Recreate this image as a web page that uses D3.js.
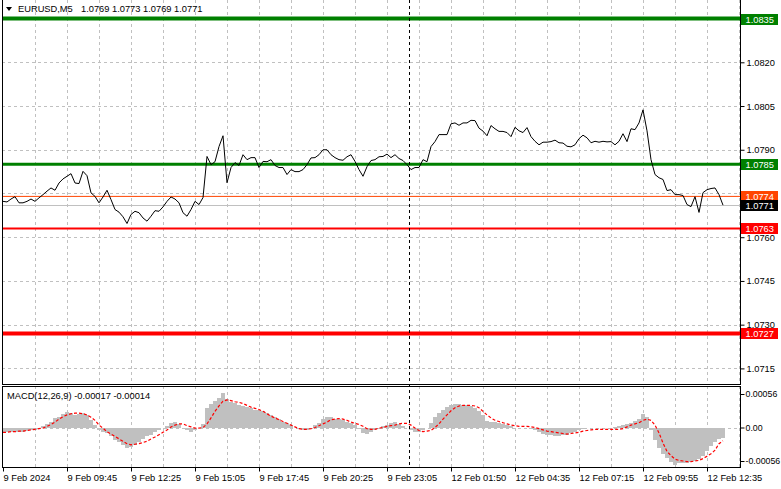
<!DOCTYPE html>
<html><head><meta charset="utf-8">
<script src="https://cdn.jsdelivr.net/npm/d3@7"></script>
<style>
html,body{margin:0;padding:0;background:#fff;}
svg{display:block;font-family:"Liberation Sans",Arial,sans-serif;}
</style></head><body>
<svg id="c" width="781" height="489"></svg>
<script>
// ---------- DATA ----------
const symbolTitle = "EURUSD,M5";
const ohlcLabel = "1.0769 1.0773 1.0769 1.0771";
const macdTitle = "MACD(12,26,9) -0.00017 -0.00014";
const timeLabels = ["9 Feb 2024","9 Feb 09:45","9 Feb 12:25","9 Feb 15:05","9 Feb 17:45","9 Feb 20:25",
  "9 Feb 23:05","12 Feb 01:50","12 Feb 04:35","12 Feb 07:15","12 Feb 09:55","12 Feb 12:35"];
const priceTicks = [1.0715,1.0730,1.0745,1.0760,1.0775,1.0790,1.0805,1.0820,1.0835];
const macdTicks = [0.00056, 0, -0.00056];
const macdTickLabels = ["0.00056","0.00","-0.00056"];
// close prices, one value per 10 minutes (2 bars of M5)
const closes = [
1.07723,1.07721,1.07731,1.07739,1.07718,1.07718,1.07723,1.07731,1.07723,1.07735,
1.07746,1.07758,1.07769,1.07761,1.07786,1.07800,1.07809,1.07818,1.07786,1.07784,
1.07826,1.07811,1.07752,1.07740,1.07718,1.07738,1.07761,1.07729,1.07695,1.07686,
1.07670,1.07647,1.07678,1.07689,1.07684,1.07666,1.07655,1.07672,1.07691,1.07689,
1.07704,1.07723,1.07738,1.07731,1.07718,1.07684,1.07672,1.07695,1.07723,1.07712,
1.07736,1.07877,1.07849,1.07859,1.07911,1.07948,1.07787,1.07839,1.07856,1.07846,
1.07883,1.07866,1.07873,1.07873,1.07839,1.07860,1.07859,1.07866,1.07846,1.07839,
1.07839,1.07815,1.07832,1.07825,1.07825,1.07832,1.07849,1.07872,1.07873,1.07883,
1.07900,1.07900,1.07883,1.07873,1.07866,1.07864,1.07876,1.07883,1.07860,1.07832,
1.07809,1.07842,1.07863,1.07866,1.07876,1.07877,1.07885,1.07873,1.07883,1.07870,
1.07863,1.07849,1.07832,1.07839,1.07839,1.07866,1.07859,1.07911,1.07928,1.07952,
1.07952,1.07952,1.07989,1.07992,1.07984,1.07992,1.07992,1.08001,1.08000,1.07974,
1.07964,1.07948,1.07983,1.07972,1.07963,1.07963,1.07959,1.07945,1.07977,1.07965,
1.07959,1.07976,1.07945,1.07929,1.07917,1.07926,1.07926,1.07928,1.07933,1.07924,
1.07923,1.07912,1.07910,1.07917,1.07938,1.07950,1.07941,1.07924,1.07929,1.07926,
1.07929,1.07927,1.07928,1.07917,1.07929,1.07955,1.07928,1.07972,1.07969,1.07992,
1.08037,1.07965,1.07866,1.07815,1.07804,1.07798,1.07760,1.07763,1.07746,1.07746,
1.07743,1.07712,1.07705,1.07739,1.07685,1.07753,1.07763,1.07767,1.07769,1.07746,
1.07710];
const macdHist = [
-0.00008,-0.00008,-0.00008,-0.00007,-0.00007,-0.00007,-0.00006,-0.00005,-0.00004,-0.00002,
0.00003,0.00006,0.00010,0.00016,0.00018,0.00022,0.00026,0.00024,0.00021,0.00023,
0.00025,0.00021,0.00013,0.00004,-0.00005,-0.00008,-0.00009,-0.00015,-0.00021,-0.00024,
-0.00029,-0.00035,-0.00033,-0.00029,-0.00025,-0.00019,-0.00015,-0.00012,-0.00008,-0.00005,
-0.00001,0.00003,0.00008,0.00010,0.00006,-0.00001,-0.00005,-0.00007,-0.00004,0.00000,
0.00006,0.00032,0.00040,0.00045,0.00049,0.00058,0.00048,0.00043,0.00041,0.00038,
0.00036,0.00034,0.00032,0.00030,0.00030,0.00027,0.00024,0.00021,0.00017,0.00014,
0.00010,0.00007,0.00004,0.00000,-0.00003,-0.00004,-0.00004,-0.00002,0.00004,0.00008,
0.00014,0.00018,0.00017,0.00014,0.00014,0.00012,0.00010,0.00007,0.00004,-0.00003,
-0.00009,-0.00011,-0.00007,-0.00004,-0.00003,0.00003,0.00004,0.00007,0.00009,0.00006,
0.00003,0.00000,-0.00005,-0.00007,-0.00008,-0.00004,-0.00001,0.00007,0.00018,0.00024,
0.00030,0.00034,0.00037,0.00039,0.00039,0.00038,0.00038,0.00036,0.00032,0.00028,
0.00021,0.00011,0.00010,0.00009,0.00007,0.00006,0.00004,0.00002,0.00000,0.00000,
0.00000,-0.00001,-0.00002,-0.00004,-0.00008,-0.00011,-0.00012,-0.00013,-0.00014,-0.00014,
-0.00013,-0.00012,-0.00009,-0.00007,-0.00004,-0.00002,-0.00001,-0.00001,-0.00001,-0.00001,
-0.00001,-0.00001,0.00000,0.00001,0.00002,0.00004,0.00006,0.00008,0.00011,0.00014,
0.00023,0.00017,-0.00004,-0.00021,-0.00035,-0.00044,-0.00051,-0.00058,-0.00062,-0.00060,
-0.00060,-0.00059,-0.00058,-0.00056,-0.00052,-0.00047,-0.00040,-0.00031,-0.00025,-0.00019,
-0.00017];
const macdSignal = [
-0.00008,-0.00008,-0.00007,-0.00007,-0.00006,-0.00006,-0.00005,-0.00004,-0.00003,-0.00002,
-0.00001,0.00002,0.00005,0.00009,0.00014,0.00018,0.00021,0.00023,0.00024,0.00024,
0.00023,0.00021,0.00017,0.00012,0.00004,-0.00001,-0.00007,-0.00011,-0.00015,-0.00019,
-0.00023,-0.00027,-0.00029,-0.00028,-0.00027,-0.00025,-0.00023,-0.00019,-0.00016,-0.00012,
-0.00008,-0.00004,0.00001,0.00004,0.00006,0.00006,0.00003,0.00001,-0.00001,-0.00001,
0.00000,0.00006,0.00016,0.00027,0.00036,0.00044,0.00046,0.00045,0.00043,0.00042,
0.00040,0.00037,0.00034,0.00032,0.00030,0.00027,0.00023,0.00019,0.00016,0.00013,
0.00010,0.00007,0.00004,0.00001,-0.00002,-0.00003,-0.00003,-0.00002,0.00000,0.00003,
0.00006,0.00009,0.00013,0.00014,0.00015,0.00014,0.00012,0.00009,0.00007,0.00005,
0.00002,-0.00002,-0.00003,-0.00003,-0.00001,0.00000,0.00002,0.00003,0.00004,0.00006,
0.00007,0.00007,0.00004,-0.00001,-0.00005,-0.00007,-0.00006,-0.00005,0.00000,0.00006,
0.00014,0.00021,0.00028,0.00033,0.00036,0.00037,0.00037,0.00037,0.00036,0.00033,
0.00027,0.00021,0.00016,0.00012,0.00010,0.00008,0.00006,0.00004,0.00003,0.00002,
0.00002,0.00002,0.00001,0.00000,-0.00002,-0.00004,-0.00006,-0.00007,-0.00008,-0.00009,
-0.00010,-0.00011,-0.00010,-0.00009,-0.00008,-0.00006,-0.00005,-0.00004,-0.00003,-0.00003,
-0.00003,-0.00003,-0.00003,-0.00003,-0.00003,-0.00002,0.00001,0.00004,0.00006,0.00008,
0.00012,0.00014,0.00012,0.00004,-0.00009,-0.00026,-0.00040,-0.00047,-0.00053,-0.00055,
-0.00056,-0.00057,-0.00057,-0.00056,-0.00055,-0.00052,-0.00048,-0.00044,-0.00038,-0.00027,
-0.00022];
const levelValues = [1.0835, 1.0785, 1.0774, 1.0763, 1.0727];
const bidValue = 1.0771;
const separatorIndex = 101.5;

// ---------- STYLES / LAYOUT ----------
const levelStyles = [
  {color:"#008000", width:4}, {color:"#008000", width:3}, {color:"#FF4500", width:1},
  {color:"#FF0000", width:2}, {color:"#FF0000", width:4}];
const F = 9.3;
const L = 2, R = 740;
const mainTop = 0, mainBottom = 384;
const macdTop = 386, macdBottom = 467;

const svg = d3.select("#c");
const n = closes.length;
const x = d3.scaleLinear().domain([0, n - 1]).range([3, 723]);
const yP = d3.scaleLinear().domain([1.0715, 1.0820]).range([368.4, 62.3]);
const yM = d3.scaleLinear().domain([-0.00056, 0.00056]).range([461, 394]);

const defs = svg.append("defs");
defs.append("clipPath").attr("id","cm").append("rect")
  .attr("x",L+1).attr("y",mainTop).attr("width",R-L-1).attr("height",mainBottom-mainTop);
defs.append("clipPath").attr("id","cd").append("rect")
  .attr("x",L+1).attr("y",macdTop+1).attr("width",R-L-1).attr("height",macdBottom-macdTop-1);

const gMain = svg.append("g").attr("clip-path","url(#cm)");
const gMacd = svg.append("g").attr("clip-path","url(#cd)");

// vertical grid (every 8 steps)
const gridIdx = d3.range(8, 190, 8);
[ [gMain, mainTop, mainBottom], [gMacd, macdTop, macdBottom] ].forEach(([g, t, b]) => {
  g.selectAll(null).data(gridIdx).enter().append("line")
    .attr("x1", d => Math.round(x(d)) + 0.5).attr("x2", d => Math.round(x(d)) + 0.5)
    .attr("y1", t).attr("y2", b)
    .attr("stroke", "#C0C0C0").attr("stroke-dasharray", "3,3");
});
// horizontal grid
gMain.selectAll(null).data(priceTicks).enter().append("line")
  .attr("x1", L).attr("x2", R)
  .attr("y1", d => Math.round(yP(d)) + 0.5).attr("y2", d => Math.round(yP(d)) + 0.5)
  .attr("stroke", "#C0C0C0").attr("stroke-dasharray", "3,3");
gMacd.append("line").attr("x1", L).attr("x2", R)
  .attr("y1", Math.round(yM(0)) + 0.5).attr("y2", Math.round(yM(0)) + 0.5)
  .attr("stroke", "#C0C0C0").attr("stroke-dasharray", "3,3");

// bid line
gMain.append("line").attr("x1", L).attr("x2", R)
  .attr("y1", Math.round(yP(bidValue)) + 0.5).attr("y2", Math.round(yP(bidValue)) + 0.5)
  .attr("stroke", "#C0C0C0");

// level lines
gMain.selectAll(null).data(levelValues).enter().append("line")
  .attr("x1", L).attr("x2", R)
  .attr("y1", d => yP(d)).attr("y2", d => yP(d))
  .attr("stroke", (d, i) => levelStyles[i].color)
  .attr("stroke-width", (d, i) => levelStyles[i].width);

// price line
gMain.append("path").datum(closes)
  .attr("d", d3.line().x((d, i) => x(i)).y(d => yP(d)))
  .attr("fill", "none").attr("stroke", "#000").attr("stroke-width", 1);

// MACD histogram
gMacd.selectAll(null).data(macdHist).enter().append("rect")
  .attr("x", (d, i) => x(i) - 2).attr("width", 4)
  .attr("y", d => Math.min(yM(d), yM(0)))
  .attr("height", d => Math.abs(yM(d) - yM(0)))
  .attr("fill", "#C0C0C0").attr("shape-rendering", "crispEdges");
// signal
gMacd.append("path").datum(macdSignal)
  .attr("d", d3.line().x((d, i) => x(i)).y(d => yM(d)))
  .attr("fill", "none").attr("stroke", "#FF0000").attr("stroke-width", 1.2)
  .attr("stroke-dasharray", "3,2");

// separator
svg.append("line")
  .attr("x1", Math.round(x(separatorIndex)) + 0.5).attr("x2", Math.round(x(separatorIndex)) + 0.5)
  .attr("y1", mainTop).attr("y2", macdBottom)
  .attr("stroke", "#000").attr("stroke-dasharray", "3,3");

// frames
const fr = svg.append("g").attr("fill", "none").attr("stroke", "#000").attr("shape-rendering", "crispEdges");
fr.append("path").attr("d", `M${L+0.5},${mainTop}V${mainBottom+0.5}H${R+0.5}V${mainTop}`);
fr.append("rect").attr("x", L + 0.5).attr("y", macdTop + 0.5)
  .attr("width", R - L).attr("height", macdBottom - macdTop);

// price axis
const coveredTicks = [1.0775, 1.0835]; // labels hidden behind the level boxes
const axP = svg.append("g").attr("transform", `translate(${R + 0.5},0)`)
  .call(d3.axisRight(yP).tickValues(priceTicks).tickSize(4).tickPadding(2).tickFormat(d3.format(".4f")));
axP.select(".domain").remove();
axP.selectAll("text").attr("font-size", F).attr("font-family", "Liberation Sans, Arial, sans-serif").attr("fill", "#000");
axP.selectAll(".tick").filter(d => coveredTicks.some(c => Math.abs(c - d) < 1e-6)).select("text").remove();
axP.selectAll("line").attr("stroke", "#000");

// macd axis
const axM = svg.append("g").attr("transform", `translate(${R + 0.5},0)`)
  .call(d3.axisRight(yM).tickValues(macdTicks).tickSize(4).tickPadding(1).tickFormat((d, i) => macdTickLabels[i]));
axM.select(".domain").remove();
axM.selectAll("text").attr("font-size", 8.8).attr("font-family", "Liberation Sans, Arial, sans-serif").attr("fill", "#000");
axM.selectAll("line").attr("stroke", "#000");

// time axis
const labelIdx = timeLabels.map((d, i) => i * 16);
const axT = svg.append("g").attr("transform", `translate(0,${macdBottom + 0.5})`)
  .call(d3.axisBottom(x).tickValues(labelIdx).tickSize(4).tickFormat((d, i) => timeLabels[i]));
axT.select(".domain").remove();
axT.selectAll("text").attr("font-size", F).attr("font-family", "Liberation Sans, Arial, sans-serif")
  .attr("fill", "#000").attr("text-anchor", "start").attr("x", 0).attr("y", 10.5).attr("dy", "0.35em");
axT.selectAll("line").attr("stroke", "#000");

// price label boxes
const boxes = levelValues.map((v, i) => ({v, color: levelStyles[i].color}))
  .concat([{v: bidValue, color: "#000"}]);
const bg = svg.append("g");
bg.selectAll("rect").data(boxes).enter().append("rect")
  .attr("x", R + 1).attr("width", 37).attr("y", d => Math.round(yP(d.v)) - 5).attr("height", 11)
  .attr("fill", d => d.color);
bg.selectAll("text").data(boxes).enter().append("text")
  .attr("x", R + 5.5).attr("y", d => Math.round(yP(d.v)) + 0.5).attr("dy", "0.35em")
  .attr("font-size", F).attr("fill", "#fff").text(d => d.v.toFixed(4));

// header
svg.append("path").attr("d", "M6,7L12,7L9,11Z").attr("fill", "#000");
svg.append("text").attr("x", 18).attr("y", 9).attr("dy", "0.35em").attr("font-size", F)
  .attr("fill", "#000").text(symbolTitle);
svg.append("text").attr("x", 81).attr("y", 9).attr("dy", "0.35em").attr("font-size", F)
  .attr("fill", "#000").text(ohlcLabel);
svg.append("text").attr("x", 7).attr("y", 395.5).attr("dy", "0.35em").attr("font-size", F)
  .attr("fill", "#000").text(macdTitle);
</script>
</body></html>
